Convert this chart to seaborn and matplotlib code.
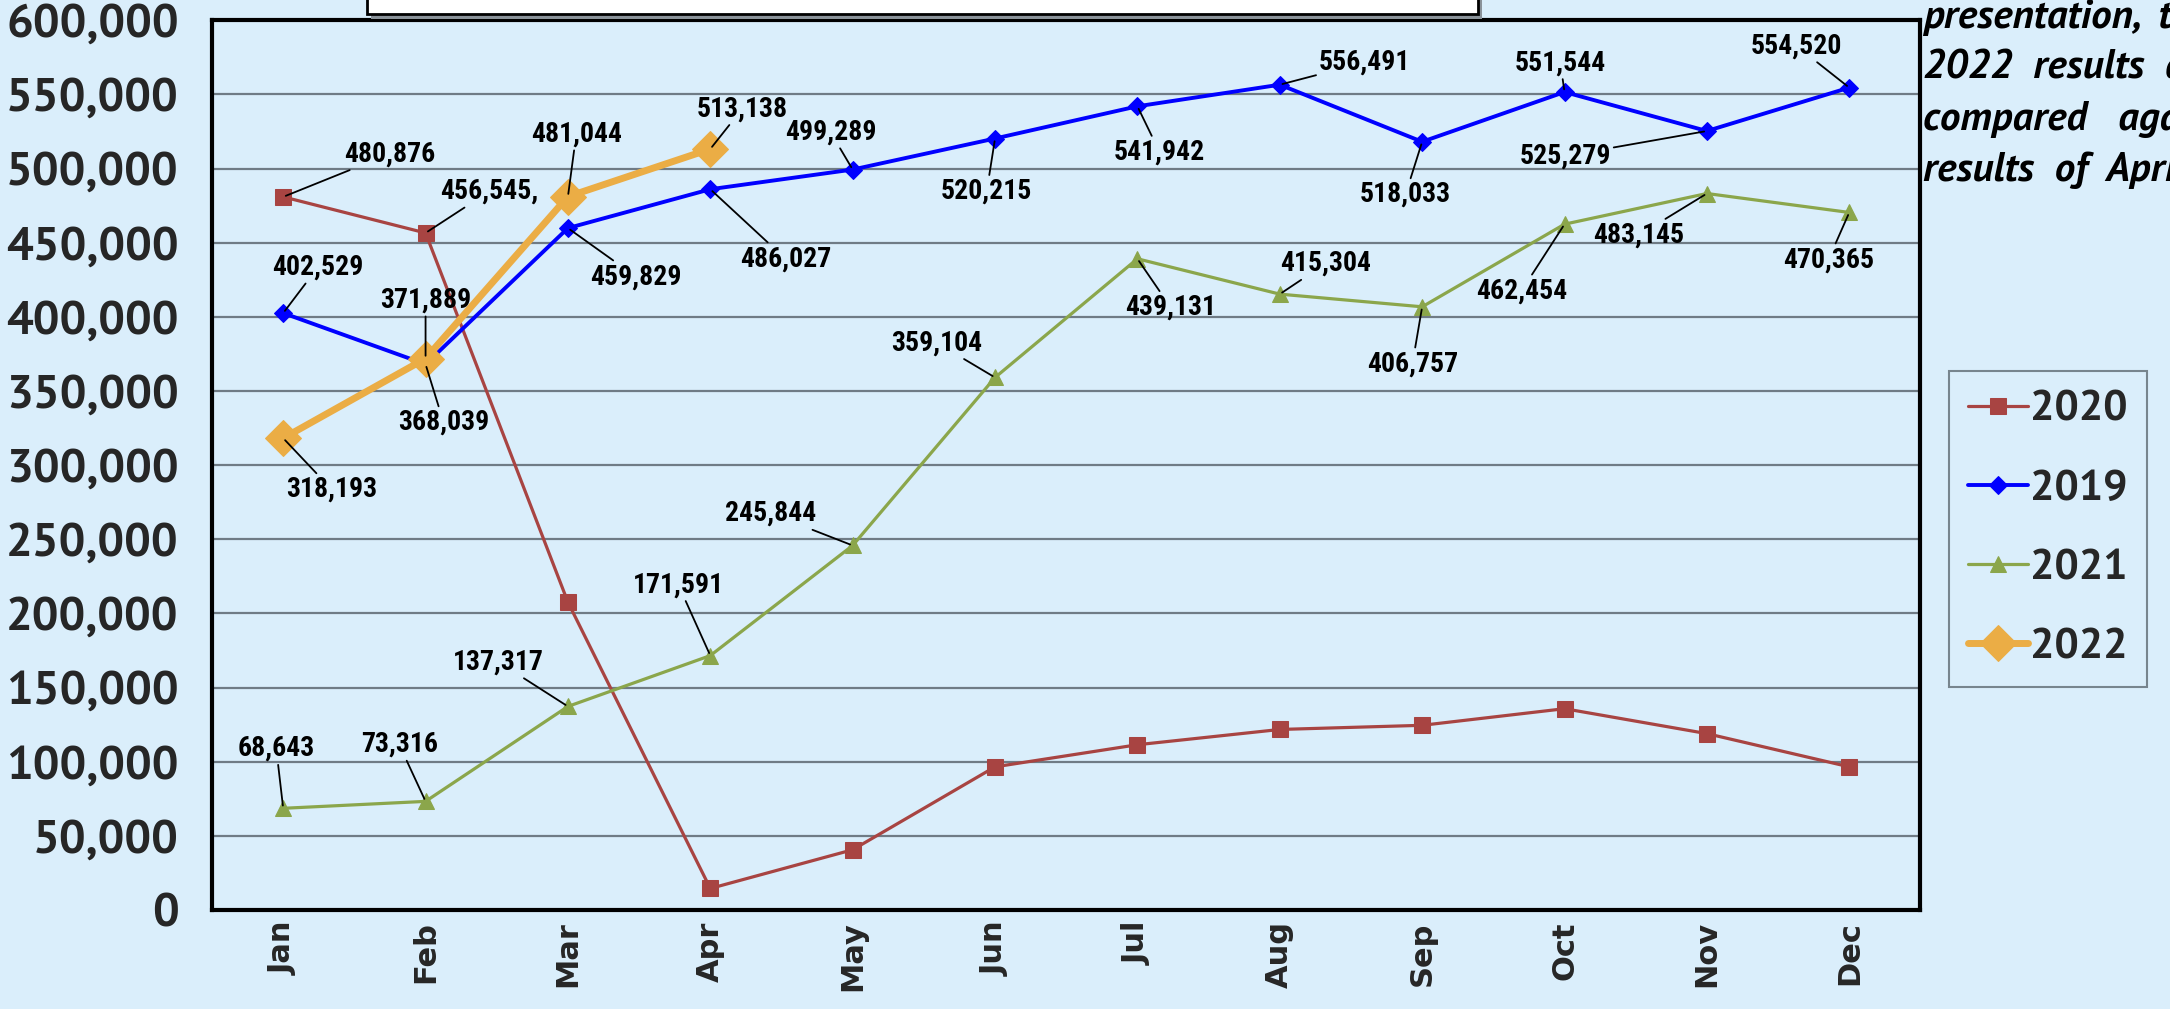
import numpy as np
import pandas as pd
import matplotlib
matplotlib.use("Agg")
import matplotlib.pyplot as plt
import seaborn as sns
from matplotlib.patches import Rectangle
from matplotlib.ticker import FuncFormatter

sns.set_style("white")

months = ["Jan", "Feb", "Mar", "Apr", "May", "Jun", "Jul", "Aug", "Sep", "Oct", "Nov", "Dec"]
series_names = ["2020", "2019", "2021", "2022"]

v2020 = [480876, 456545, 207600, 14600, 40700, 96600, 111500, 121800, 124600, 135800, 119000, 96600]
v2019 = [402529, 368039, 459829, 486027, 499289, 520215, 541942, 556491, 518033, 551544, 525279, 554520]
v2021 = [68643, 73316, 137317, 171591, 245844, 359104, 439131, 415304, 406757, 462454, 483145, 470365]
v2022 = [318193, 371889, 481044, 513138]

# labels as printed on the chart (None = no label)
lab2020 = ["480,876", "456,545,"] + [None] * 10
lab2019 = [f"{v:,}" for v in v2019]
lab2021 = [f"{v:,}" for v in v2021]
lab2022 = [f"{v:,}" for v in v2022]

# label offsets in points (dx, dy)
off2020 = [(77, 31), (46, 30)] + [None] * 10
off2019 = [(25, 33), (13, -42), (49, -35), (54, -50), (-16, 27), (-6, -38),
           (16, -33), (61, 16), (-12, -38), (-3, 21), (-102, -18), (-38, 30)]
off2021 = [(-5, 43), (-19, 41), (-50, 32), (-23, 51), (-59, 23), (-42, 25),
           (24, -35), (33, 22), (-7, -41), (-31, -48), (-49, -30), (-15, -34)]
off2022 = [(35, -37), (0, 42), (6, 45), (23, 29)]

bg = "#DAEEFB"
grid_c = "#6F7B85"
label_font = "Roboto Condensed"
big_font = "PT Sans"

styles = {
    "2020": dict(color="#A84442", marker="s", markersize=11.5, lw=2.3),
    "2019": dict(color="#0000FF", marker="D", markersize=9, lw=2.8),
    "2021": dict(color="#8BA64B", marker="^", markersize=12, lw=2.3),
    "2022": dict(color="#EBAD45", marker="D", markersize=18, lw=5),
}

data = {"2020": (v2020, lab2020, off2020), "2019": (v2019, lab2019, off2019),
        "2021": (v2021, lab2021, off2021), "2022": (v2022, lab2022, off2022)}

fig = plt.figure(figsize=(21.7, 10.09), dpi=100, facecolor=bg)
ax = fig.add_axes([0.0977, 0.098, 0.7873, 0.882])
ax.set_facecolor(bg)

for name in series_names:
    vals, labs, offs = data[name]
    df = pd.DataFrame({"Month": months[:len(vals)], "Visitors": vals})
    st = styles[name]
    sns.lineplot(data=df, x="Month", y="Visitors", ax=ax, sort=False,
                 color=st["color"], marker=st["marker"], markersize=st["markersize"],
                 linewidth=st["lw"], markeredgecolor=st["color"], label=name)
    for i, (v, t, o) in enumerate(zip(vals, labs, offs)):
        if t is None:
            continue
        ax.annotate(t, xy=(i, v), xytext=o, textcoords="offset points",
                    ha="center", va="center", fontsize=20, fontweight="bold",
                    family=label_font, color="black", zorder=6,
                    bbox=dict(boxstyle="square,pad=0.1", fc="none", ec="none"),
                    arrowprops=dict(arrowstyle="-", color="black", lw=1.3,
                                    shrinkA=0, shrinkB=2))

ax.set_xlim(-0.5, 11.5)
ax.set_ylim(0, 600000)
ax.set_xticks(range(12))
ax.set_xticklabels(months, rotation=90, fontsize=22, fontweight="bold", family="DejaVu Sans")
ax.set_xticks(np.arange(0.5, 11, 1), minor=True)
ax.tick_params(axis="x", which="major", length=0, pad=8)
ax.tick_params(axis="x", which="minor", direction="in", length=6.5, width=1, color=grid_c)
ax.set_yticks(np.arange(0, 600001, 50000))
ax.yaxis.set_major_formatter(FuncFormatter(lambda v, p: f"{int(v):,}"))
ax.tick_params(axis="y", direction="in", length=6, width=1, color=grid_c, pad=24)
for lb in ax.get_yticklabels():
    lb.set_fontsize(34)
    lb.set_fontweight("bold")
    lb.set_family(big_font)
ax.yaxis.grid(True, color=grid_c, lw=1.6)
ax.set_axisbelow(True)
ax.set_xlabel("")
ax.set_ylabel("")
for sp in ax.spines.values():
    sp.set_color("black")
    sp.set_linewidth(3)

ax.get_legend().remove()
lines, labels = ax.get_legend_handles_labels()
leg = fig.legend(lines, labels, loc="upper left", bbox_to_anchor=(0.898, 0.632),
                 prop=dict(family=big_font, weight="bold", size=31), frameon=True,
                 fancybox=False, facecolor=bg, edgecolor="#5F6B73",
                 handlelength=1.4, handletextpad=0.05, labelspacing=0.93,
                 borderpad=0.45, borderaxespad=0)
leg.get_frame().set_linewidth(1.5)

# partial title box at the top (cut off in the slide)
fig.patches.append(Rectangle((0.171, 0.981), 0.512, 0.06, transform=fig.transFigure,
                             fc="#8A9299", ec="none", zorder=1))
fig.patches.append(Rectangle((0.169, 0.986), 0.512, 0.06, transform=fig.transFigure,
                             fc="white", ec="black", lw=2, zorder=2))

# side note, cut off at the right edge of the slide
note = ["presentation,  the", "2022  results  are", "compared   against", "results  of  April"]
for k, line in enumerate(note):
    fig.text(0.886, 0.983 - k * 0.0505, line, ha="left", va="center", fontsize=29.5,
             fontweight="bold", style="italic", family=big_font, color="black")

fig.savefig("out.png", dpi=100, facecolor=bg)
